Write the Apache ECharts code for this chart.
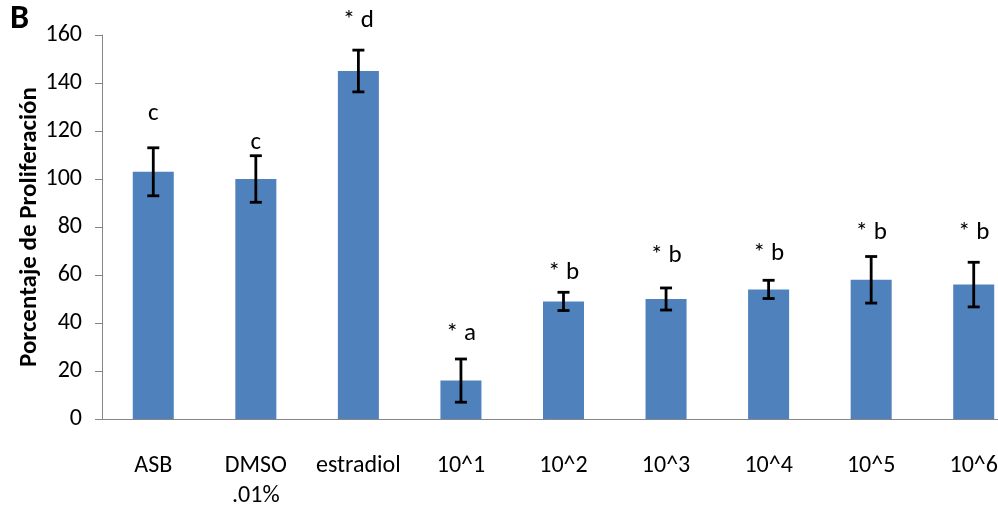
<!DOCTYPE html>
<html><head><meta charset="utf-8">
<script src="https://cdn.jsdelivr.net/npm/echarts@6/dist/echarts.min.js"></script>
<style>html,body{margin:0;padding:0;background:#fff}#c{width:998px;height:506px}</style>
</head><body><div id="c"></div>
<script>
const categories = ['ASB', 'DMSO\n.01%', 'estradiol', '10^1', '10^2', '10^3', '10^4', '10^5', '10^6'];
const values = [103, 100, 145, 16, 49, 50, 54, 58, 56];
const errors = [10, 9.7, 8.7, 9, 3.8, 4.6, 3.8, 9.7, 9.3];
const letters = ['c', 'c', '* d', '* a', '* b', '* b', '* b', '* b', '* b'];
const letterY = [127, 115, 166, 35.5, 61, 68, 69, 77.5, 77.5];
const yTicks = [0, 20, 40, 60, 80, 100, 120, 140, 160];

const FONT = 'Carlito, "Open Sans", sans-serif';
const chart = echarts.init(document.getElementById('c'), null, {renderer: 'canvas'});
chart.setOption({
  animation: false,
  backgroundColor: '#fff',
  graphic: [
    {type: 'text', left: 10, top: 2, style: {text: 'B', font: 'bold 34px ' + FONT, fill: '#000'}}
  ],
  grid: {left: 102, top: 35, width: 923, height: 384, outerBoundsMode: 'none', containLabel: false},
  xAxis: {
    type: 'category', data: categories,
    axisLine: {lineStyle: {color: '#868686', width: 1}},
    axisTick: {length: 8, lineStyle: {color: '#868686'}},
    axisLabel: {color: '#000', fontSize: 24, fontFamily: FONT, margin: 32, lineHeight: 30, interval: 0}
  },
  yAxis: {
    type: 'value', min: yTicks[0], max: yTicks[yTicks.length - 1], interval: 20,
    name: 'Porcentaje de Proliferación', nameLocation: 'middle', nameGap: 60, nameMoveOverlap: false,
    nameTextStyle: {color: '#000', fontSize: 25, fontWeight: 'bold', fontFamily: FONT},
    axisLine: {show: true, lineStyle: {color: '#868686'}},
    axisTick: {show: true, length: 7, lineStyle: {color: '#868686'}},
    axisLabel: {color: '#000', fontSize: 24, fontFamily: FONT, margin: 20},
    splitLine: {show: false}
  },
  series: [
    {type: 'bar', data: values, barWidth: '40%', itemStyle: {color: '#4F81BD'}},
    {
      type: 'custom', clip: false, z: 5,
      data: values.map((v, i) => [i, v, errors[i]]),
      renderItem: (params, api) => {
        const i = api.value(0), v = api.value(1), e = api.value(2);
        const hi = api.coord([i, v + e]), lo = api.coord([i, v - e]);
        const cap = 6;
        const st = {stroke: '#000', lineWidth: 2.8};
        return {type: 'group', children: [
          {type: 'line', shape: {x1: hi[0], y1: hi[1], x2: lo[0], y2: lo[1]}, style: st},
          {type: 'line', shape: {x1: hi[0] - cap, y1: hi[1], x2: hi[0] + cap, y2: hi[1]}, style: st},
          {type: 'line', shape: {x1: lo[0] - cap, y1: lo[1], x2: lo[0] + cap, y2: lo[1]}, style: st}
        ]};
      }
    },
    {
      type: 'custom', clip: false, z: 6,
      data: letterY.map((y, i) => [i, y]),
      renderItem: (params, api) => {
        const p = api.coord([api.value(0), api.value(1)]);
        return {type: 'text', x: p[0], y: p[1], style: {
          text: letters[params.dataIndex], font: '25px ' + FONT, fill: '#000',
          align: 'center', verticalAlign: 'middle'}};
      }
    }
  ]
});
</script></body></html>
